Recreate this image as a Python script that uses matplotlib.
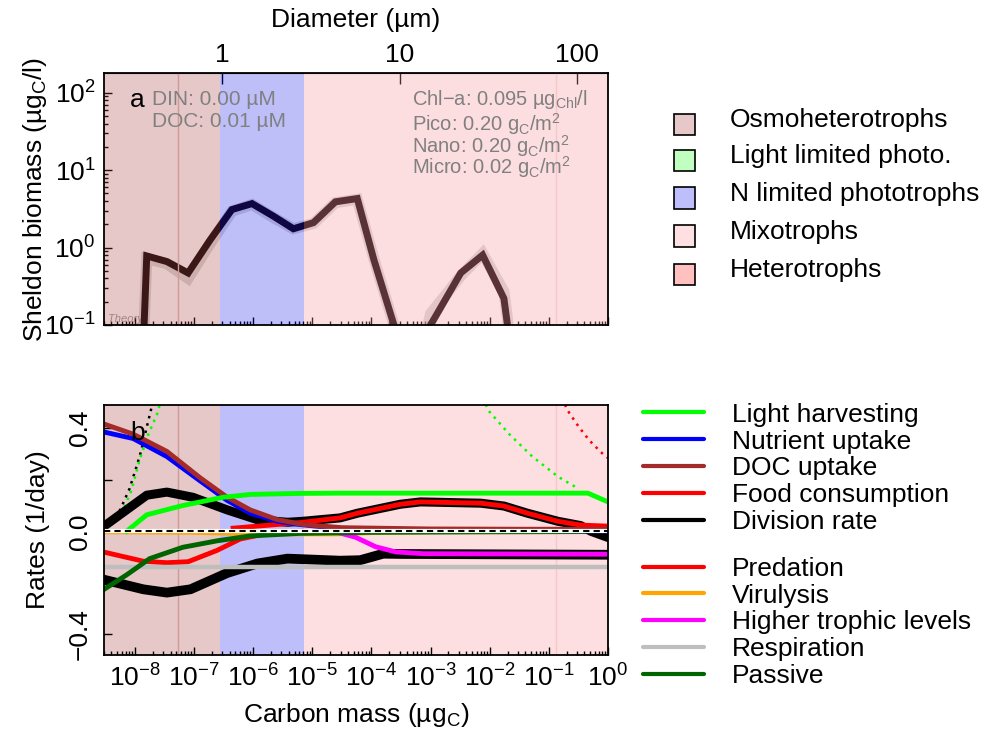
import numpy as np
import matplotlib
matplotlib.use("Agg")
import matplotlib.pyplot as plt
from matplotlib.patches import Rectangle
from matplotlib.lines import Line2D
from matplotlib.ticker import LogLocator, NullLocator, NullFormatter

plt.rcParams['font.family'] = ['Liberation Sans', 'DejaVu Sans']
plt.rcParams['mathtext.default'] = 'regular'
plt.rcParams['font.size'] = 19

# ---------------- data (x values are log10 carbon mass, ugC) ----------------
# panel a: Sheldon biomass spectrum
spec_logm = [-7.90, -7.86, -7.80, -7.46, -7.10, -6.73, -6.36, -6.02, -5.66, -5.32,
             -4.98, -4.61, -4.24, -3.96, -3.62, -3.40, -3.20, -3.00, -2.49, -2.12,
             -1.76, -1.70, -1.60]
spec_biomass = [0.01, 0.05, 0.78, 0.66, 0.47, 1.25, 3.1, 3.7, 2.55, 1.75,
                2.1, 3.9, 4.3, 0.70, 0.1, 0.02, 0.02, 0.1, 0.47, 0.80,
                0.22, 0.1, 0.01]
theory_biomass = [0.01, 0.05, 0.72, 0.62, 0.40, 1.12, 2.95, 3.6, 2.45, 1.75,
                  2.05, 3.8, 4.2, 0.72, 0.1, 0.02, 0.03, 0.14, 0.43, 0.84,
                  0.27, 0.12, 0.01]

# panel b: rates (1/day)
doc_logm = [-8.52, -8.03, -7.46, -6.90, -6.44, -6.05, -5.59, -5.15, -4.50, -3.00, -1.50, 0.0]
doc_rate = [0.416, 0.377, 0.31, 0.208, 0.132, 0.083, 0.045, 0.026, 0.014, 0.009, 0.008, 0.008]

nut_logm = [-8.52, -8.03, -7.46, -6.90, -6.44, -6.05, -5.59, -5.20, -4.50, -3.00, 0.0]
nut_rate = [0.385, 0.36, 0.29, 0.196, 0.12, 0.07, 0.039, 0.026, 0.010, 0.004, 0.002]

light_logm = [-8.14, -7.80, -7.19, -6.51, -6.05, -5.20, -4.53, -0.34, 0.0]
light_rate = [0.0, 0.064, 0.10, 0.132, 0.143, 0.147, 0.148, 0.148, 0.114]

food_logm = [-6.34, -5.20, -4.53, -4.24, -3.51, -3.17, -2.15, -1.76, -1.36, -0.85, -0.46, 0.0]
food_rate = [0.012, 0.034, 0.052, 0.07, 0.105, 0.114, 0.109, 0.098, 0.07, 0.039, 0.024, 0.02]

div_logm = [-8.52, -7.80, -7.46, -7.02, -6.44, -5.93, -5.42, -5.15, -4.53, -4.24, -3.51,
            -3.17, -2.15, -1.76, -1.36, -0.85, -0.46, -0.29, 0.0]
div_rate = [0.02, 0.14, 0.152, 0.132, 0.083, 0.045, 0.035, 0.039, 0.052, 0.07, 0.105,
            0.114, 0.109, 0.098, 0.07, 0.039, 0.022, 0.0, -0.024]

div_max_logm = [-8.42, -8.25, -8.09, -7.97, -7.89, -7.80, -7.73, -7.68]
div_max_rate = [0.033, 0.083, 0.166, 0.253, 0.316, 0.404, 0.47, 0.52]

light_max_left_logm = [-8.40, -8.23, -8.06, -7.92, -7.78, -7.62, -7.55]
light_max_left_rate = [0.026, 0.064, 0.158, 0.278, 0.372, 0.458, 0.52]

light_max_right_logm = [-2.10, -2.04, -1.67, -1.28, -0.84, -0.49]
light_max_right_rate = [0.52, 0.473, 0.377, 0.29, 0.211, 0.164]

food_max_logm = [-0.75, -0.71, -0.64, -0.49, -0.32, -0.12, 0.0]
food_max_rate = [0.52, 0.479, 0.454, 0.404, 0.354, 0.307, 0.284]

loss_logm = [-8.52, -7.86, -7.46, -7.06, -6.44, -5.93, -5.42, -4.53, -4.19, -3.80, -3.50, 0.0]
loss_rate = [-0.188, -0.225, -0.238, -0.225, -0.162, -0.125, -0.106, -0.114, -0.112, -0.087, -0.088, -0.091]

pred_logm = [-8.52, -7.86, -7.46, -7.10, -6.61, -6.22, -5.76, -5.00, -4.50]
pred_rate = [-0.081, -0.116, -0.122, -0.118, -0.074, -0.030, -0.008, -0.002, -0.001]

virus_logm = [-8.52, -7.00, -6.30, -5.50, -4.60, -4.00, -3.00, 0.0]
virus_rate = [-0.002, -0.004, -0.008, -0.01, -0.01, -0.005, -0.002, -0.001]

htl_logm = [-5.20, -4.64, -4.27, -3.93, -3.59, -3.12, 0.0]
htl_rate = [0.0, 0.0, -0.023, -0.06, -0.08, -0.087, -0.089]

resp_logm = [-8.52, -6.0, -4.0, -2.0, 0.0]
resp_rate = [-0.137, -0.137, -0.137, -0.137, -0.137]

passive_logm = [-8.52, -8.14, -7.75, -7.19, -6.61, -6.05, -5.20, -4.00, -2.00, 0.0]
passive_rate = [-0.225, -0.169, -0.106, -0.062, -0.037, -0.018, -0.008, -0.004, -0.002, -0.001]

# trophic strategy zones (log10 mass edges)
zone_edges_logm = [-8.53, -6.56, -5.14, 0.02]
zone_tint = [(166, 59, 59), (0, 0, 235), (248, 145, 155)]
zone_alpha = [0.28, 0.255, 0.30]
marker_logm = [-7.27, -0.88]
marker_colors = ['#cf9a9a', '#f6c6c8']

zone_labels = ['Osmoheterotrophs', 'Light limited photo.', 'N limited phototrophs',
               'Mixotrophs', 'Heterotrophs']
zone_legend_colors = ['#e6c8c8', '#c0ffc0', '#bebefa', '#ffe0e2', '#ffc0c0']

gain_labels = ['Light harvesting', 'Nutrient uptake', 'DOC uptake', 'Food consumption', 'Division rate']
gain_colors = ['#00ff00', '#0000ff', '#a52a2a', '#ff0000', '#000000']
loss_labels = ['Predation', 'Virulysis', 'Higher trophic levels', 'Respiration', 'Passive']
loss_colors = ['#ff0000', '#ffa500', '#ff00ff', '#bebebe', '#006400']

M1 = 10 ** -6.525  # carbon mass of a 1 um cell


def m(logm):
    return 10 ** np.asarray(logm)


fig = plt.figure(figsize=(9.87, 7.30), dpi=100)
W, H = 987.0, 730.0
ax1 = fig.add_axes([104 / W, 1 - 325 / H, 504 / W, 252 / H])
ax2 = fig.add_axes([104 / W, 1 - 655 / H, 504 / W, 250 / H])
xlim = (10 ** -8.523, 1.0)

# ---------------- panel a ----------------
ax1.set_xscale('log')
ax1.set_yscale('log')
ax1.set_xlim(*xlim)
ax1.set_ylim(0.1, 180)
ax1.plot(m(spec_logm), theory_biomass, color='#b0b0b0', lw=8, alpha=0.45, zorder=2,
         solid_joinstyle='miter')
ax1.plot(m(spec_logm), spec_biomass, color=(20 / 255, 10 / 255, 10 / 255), lw=5, zorder=2.5,
         solid_joinstyle='miter')
for i in range(3):
    c = tuple(v / 255 for v in zone_tint[i])
    ax1.axvspan(m(zone_edges_logm[i]), m(zone_edges_logm[i + 1]), color=c,
                alpha=zone_alpha[i], lw=0, zorder=3)
for xm, c in zip(marker_logm, marker_colors):
    ax1.axvline(m(xm), color=c, lw=1, zorder=3.1)

ax1.set_yticks([0.1, 1, 10, 100])
ax1.set_yticklabels(['10$^{-1}$', '10$^{0}$', '10$^{1}$', '10$^{2}$'])
ax1.yaxis.set_minor_locator(LogLocator(base=10, subs=range(2, 10)))
ax1.yaxis.set_minor_formatter(NullFormatter())
ax1.xaxis.set_major_locator(LogLocator(base=10, numticks=20))
ax1.xaxis.set_minor_locator(LogLocator(base=10, subs=range(2, 10), numticks=20))
ax1.tick_params(which='both', direction='in', top=False, right=False, labelbottom=False)
ax1.tick_params(which='major', length=6, width=1, pad=6)
ax1.tick_params(which='minor', length=3, width=1)
ax1.set_ylabel('Sheldon biomass (µg$_{C}$/l)')
ax1.yaxis.set_label_coords(-0.137, 0.5)
ax1.yaxis.label.set_va('center')

secax = ax1.secondary_xaxis('top', functions=(lambda x: (x / M1) ** (1 / 3),
                                              lambda d: M1 * d ** 3))
secax.set_xticks([1, 10, 100])
secax.set_xticklabels(['1', '10', '100'])
secax.xaxis.set_minor_locator(NullLocator())
secax.tick_params(direction='in', length=8, width=1, pad=4)
fig.text(356 / W, 1 - 20 / H, 'Diameter (µm)', ha='center', va='center')

ax1.text(0.052, 0.865, 'a', transform=ax1.transAxes, va='baseline', zorder=5)
grey = '#808080'
ax1.text(0.095, 0.873, 'DIN: 0.00 µM', transform=ax1.transAxes, color=grey, fontsize=15,
         va='baseline', zorder=5)
ax1.text(0.095, 0.786, 'DOC: 0.01 µM', transform=ax1.transAxes, color=grey, fontsize=15,
         va='baseline', zorder=5)
right_notes = ['Chl−a: 0.095 µg$_{Chl}$/l', 'Pico: 0.20 g$_{C}$/m$^{2}$',
               'Nano: 0.20 g$_{C}$/m$^{2}$', 'Micro: 0.02 g$_{C}$/m$^{2}$']
for txt, yb in zip(right_notes, [0.873, 0.772, 0.685, 0.599]):
    ax1.text(0.611, yb, txt, transform=ax1.transAxes, color=grey, fontsize=14.5,
             va='baseline', zorder=5)
ax1.text(0.008, 0.012, 'Theory', transform=ax1.transAxes, color='#a0a0a0', fontsize=8,
         style='italic', va='baseline', zorder=2.2)

# ---------------- panel b ----------------
ax2.set_xscale('log')
ax2.set_xlim(*xlim)
ax2.set_ylim(-0.48, 0.49)
for i in range(3):
    c = np.array(zone_tint[i]) / 255 * zone_alpha[i] + (1 - zone_alpha[i])
    ax2.axvspan(m(zone_edges_logm[i]), m(zone_edges_logm[i + 1]), color=tuple(c), lw=0, zorder=0)
for xm, c in zip(marker_logm, marker_colors):
    ax2.axvline(m(xm), color=c, lw=1, zorder=0.5)

dots = (0, (1, 2))
ax2.plot(m(div_max_logm), div_max_rate, color='black', lw=1.8, ls=dots, zorder=1)
ax2.plot(m(light_max_left_logm), light_max_left_rate, color='#00ff00', lw=1.8, ls=dots, zorder=1)
ax2.plot(m(light_max_right_logm), light_max_right_rate, color='#00ff00', lw=1.8, ls=dots, zorder=1)
ax2.plot(m(food_max_logm), food_max_rate, color='#ff0000', lw=1.8, ls=dots, zorder=1)

ax2.plot(m(loss_logm), loss_rate, color='black', lw=7, zorder=2)
ax2.plot(m(pred_logm), pred_rate, color='#ff0000', lw=3.5, zorder=2.2)
ax2.plot(m(virus_logm), virus_rate, color='#ffa500', lw=3.5, zorder=2.2)
ax2.plot(m(htl_logm), htl_rate, color='#ff00ff', lw=3.5, zorder=2.3)
ax2.plot(m(resp_logm), resp_rate, color='#bebebe', lw=3.2, zorder=2.4)
ax2.plot(m(passive_logm), passive_rate, color='#006400', lw=3.5, zorder=2.5)

ax2.plot(m(div_logm), div_rate, color='black', lw=6.5, zorder=3)
ax2.plot(m(food_logm), food_rate, color='#ff0000', lw=3.5, zorder=3.1)
ax2.plot(m(nut_logm), nut_rate, color='#0000ff', lw=3.5, zorder=3.2)
ax2.plot(m(doc_logm), doc_rate, color='#a52a2a', lw=3.5, zorder=3.3)
ax2.plot(m(light_logm), light_rate, color='#00ff00', lw=3.5, zorder=3.4)

ax2.axhline(0, color='white', lw=3, zorder=4)
ax2.axhline(0, color='black', lw=1.5, dashes=(3, 2), zorder=4.1)

ax2.set_yticks([-0.4, -0.2, 0.0, 0.2, 0.4])
ax2.set_yticklabels(['−0.4', '', '0.0', '', '0.4'], rotation=90, va='center')
decades = list(range(-8, 1))
ax2.set_xticks([10.0 ** d for d in decades])
ax2.set_xticklabels(['10$^{%d}$' % d if d != 0 else '10$^{0}$' for d in decades])
ax2.xaxis.set_minor_locator(LogLocator(base=10, subs=range(2, 10), numticks=20))
ax2.xaxis.set_minor_formatter(NullFormatter())
ax2.tick_params(which='both', direction='in', top=False, right=False)
ax2.tick_params(which='major', length=6, width=1, pad=7)
ax2.tick_params(which='minor', length=3, width=1)
ax2.tick_params(axis='y', pad=9)
ax2.set_ylabel('Rates (1/day)')
ax2.yaxis.set_label_coords(-0.131, 0.5)
ax2.yaxis.label.set_va('center')
ax2.set_xlabel('Carbon mass (µg$_{C}$)')
ax2.xaxis.set_label_coords(0.5, -0.24)
ax2.xaxis.label.set_va('center')
ax2.text(0.052, 0.86, 'b', transform=ax2.transAxes, va='baseline', zorder=5)

for ax in (ax1, ax2):
    for s in ax.spines.values():
        s.set_linewidth(1.3)
        s.set_zorder(6)

# ---------------- legends (drawn in figure pixels) ----------------
def fx(x):
    return x / W


def fy(y):
    return 1 - y / H


zone_base = [126.7, 163, 200.5, 238.5, 277]
for lab, col, yb in zip(zone_labels, zone_legend_colors, zone_base):
    fig.add_artist(Rectangle((fx(674), fy(yb + 8)), 21 / W, 21 / H, transform=fig.transFigure,
                             facecolor=col, edgecolor='black', lw=1.2))
    fig.text(fx(730), fy(yb), lab, va='baseline', ha='left')

line_rows = [412.3, 439.3, 466, 493, 520, 566.7, 593.3, 620, 646.7, 673.7]
rate_labels = gain_labels + loss_labels
rate_colors = gain_colors + loss_colors
for lab, col, yl in zip(rate_labels, rate_colors, line_rows):
    fig.add_artist(Line2D([fx(643), fx(704)], [fy(yl), fy(yl)], transform=fig.transFigure,
                          color=col, lw=3, solid_capstyle='round'))
    fig.text(fx(732), fy(yl + 9.4), lab, va='baseline', ha='left')

fig.savefig('out.png', dpi=100)
